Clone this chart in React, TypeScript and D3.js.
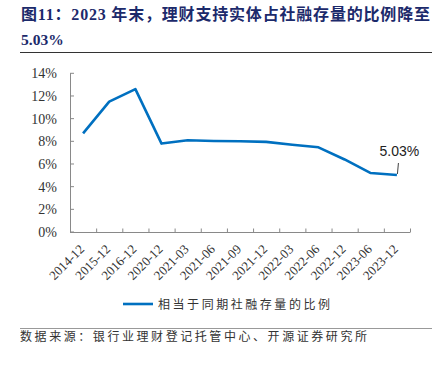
import React from "react";
import * as d3 from "d3";

const categories = ["2014-12","2015-12","2016-12","2020-12","2021-03","2021-06","2021-09","2021-12","2022-03","2022-06","2022-12","2023-06","2023-12"];
const values = [8.7, 11.5, 12.6, 7.8, 8.1, 8.03, 8.0, 7.95, 7.7, 7.47, 6.4, 5.2, 5.03];
const yTicks = [0, 2, 4, 6, 8, 10, 12, 14];
const titleLine1 = "图11：2023 年末，理财支持实体占社融存量的比例降至";
const titleLine2 = "5.03%";
const legendLabel = "相当于同期社融存量的比例";
const sourceText = "数据来源：银行业理财登记托管中心、开源证券研究所";
const annotation = "5.03%";

export default function App() {
  const W = 443, H = 368;
  const x = d3.scaleBand<string>().domain(categories).range([70, 410]);
  const y = d3.scaleLinear().domain([0, 14]).range([232, 73.3]);
  const bw = x.bandwidth();
  const cx = (c: string) => (x(c) as number) + bw / 2;
  const line = d3.line<number>().x((_, i) => cx(categories[i])).y((d) => y(d));
  const lastC = categories[categories.length - 1];
  const lastV = values[values.length - 1];
  const serif = "'Liberation Serif', 'Times New Roman', 'Noto Sans CJK SC', serif";
  const cjk = "'Noto Sans CJK SC', sans-serif";
  const boundaries = [...categories.map((c) => x(c) as number), 410];
  return (
    <svg width={W} height={H} style={{ position: "absolute", left: 0, top: 0, background: "#fff" }}>
      <text x={21} y={20} fontFamily={serif} fontWeight="bold" fontSize={16} fill="#1c2a6b" textLength={409} lengthAdjust="spacing">{titleLine1}</text>
      <text x={21} y={45} fontFamily={serif} fontWeight="bold" fontSize={15.5} fill="#1c2a6b">{titleLine2}</text>
      <line x1={20} x2={432} y1={52.5} y2={52.5} stroke="#333" strokeWidth={1} />

      {/* y axis */}
      <line x1={70.5} x2={70.5} y1={y(14)} y2={y(0)} stroke="#898989" strokeWidth={1} />
      {yTicks.map((t) => (
        <g key={t}>
          <line x1={70} x2={74} y1={y(t)} y2={y(t)} stroke="#898989" />
          <text x={57} y={y(t)} dy="0.35em" textAnchor="end" fontFamily={serif} fontSize={14} fill="#333">{t}%</text>
        </g>
      ))}
      {/* x axis */}
      <line x1={70} x2={410.5} y1={y(0) + 0.5} y2={y(0) + 0.5} stroke="#898989" strokeWidth={1} />
      {boundaries.map((b, i) => (
        <line key={i} x1={b + 0.5} x2={b + 0.5} y1={y(0) - 3.5} y2={y(0)} stroke="#898989" />
      ))}
      {categories.map((c) => (
        <text key={c} transform={`translate(${cx(c) + 2},${250}) rotate(-45)`} textAnchor="end" fontFamily={serif} fontSize={13} fill="#333">{c}</text>
      ))}

      <path d={line(values) as string} fill="none" stroke="#0070C0" strokeWidth={2.6} strokeLinejoin="round" />

      {/* annotation */}
      <line x1={cx(lastC) + 1.5} y1={163} x2={cx(lastC) + 0.5} y2={y(lastV) - 1} stroke="#404040" strokeWidth={1} />
      <text x={cx(lastC) + 2.5} y={155.5} textAnchor="middle" fontFamily="'Liberation Sans', Arial, sans-serif" fontSize={14} fill="#222">{annotation}</text>

      {/* legend */}
      <line x1={123} x2={153} y1={304} y2={304} stroke="#0070C0" strokeWidth={2.6} />
      <text x={158} y={308.5} fontFamily={cjk} fontSize={12} fill="#333" textLength={172} lengthAdjust="spacing">{legendLabel}</text>

      <line x1={20} x2={432} y1={328.5} y2={328.5} stroke="#999" strokeWidth={1.2} />
      <text x={20} y={341} fontFamily={cjk} fontSize={12} fill="#333" textLength={347} lengthAdjust="spacing">{sourceText}</text>
    </svg>
  );
}
